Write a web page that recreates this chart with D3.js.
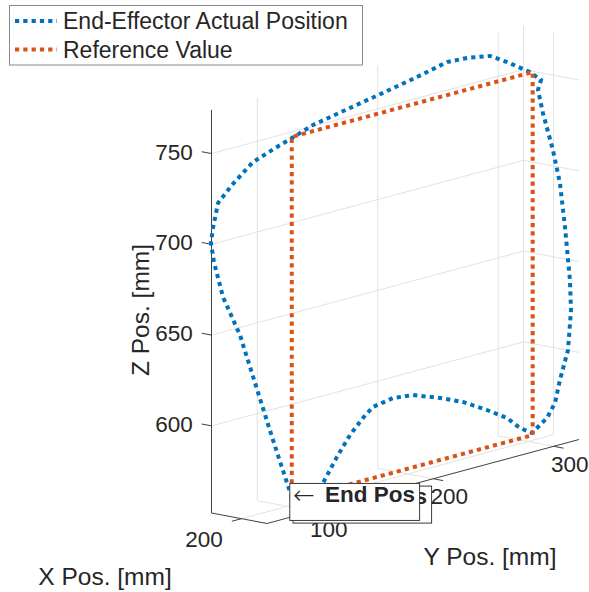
<!DOCTYPE html>
<html>
<head>
<meta charset="utf-8">
<script src="https://cdn.jsdelivr.net/npm/d3@7"></script>
<style>
  body { margin: 0; background: #fff; }
  text { font-family: "Liberation Sans", Arial, Helvetica, sans-serif; fill: #262626; }
</style>
</head>
<body>
<div id="wrapper"></div>
<script>
// axis limits and ticks (mm)
const xLim = [180, 217]
const yLim = [62, 321]
const zLim = [552, 774]
const xTicks = [200]
const yTicks = [100, 200, 300]
const zTicks = [600, 650, 700, 750]

// reference square (constant x plane)
const refX = 203
const refY = [100, 100, 300, 300, 100]
const refZ = [556, 756, 756, 556, 556]

// measured end-effector path
const actX = 203
const actY = [100.2, 84.4, 69.5, 57.0, 42.9, 35.4, 32.9, 34.6, 38.8, 50.4, 67.8, 87.7, 104.3, 117.6,
  148.3, 175.7, 204.0, 228.9, 245.5, 264.5, 278.7, 297.7, 306.9, 304.4, 308.5, 316.8, 322.6, 326.8,
  330.9, 331.8, 329.3, 322.6, 318.5, 311.9, 299.4, 289.4, 278.7, 262.0, 242.1, 223.0, 200.6, 184.0,
  167.4, 159.1, 148.3, 137.5, 125.9, 116.8, 106.0]
const actZ = [557.0, 591.8, 625.9, 654.5, 678.0, 698.6, 709.5, 717.5, 730.5, 738.4, 747.9, 752.6, 756.3, 759.4,
  763.3, 766.7, 770.4, 774.2, 773.5, 771.2, 765.3, 756.4, 750.4, 745.3, 731.9, 710.0, 690.8, 665.8,
  635.9, 619.2, 597.6, 582.3, 570.4, 563.3, 557.3, 561.8, 569.2, 576.6, 584.6, 590.2, 595.8, 597.1,
  595.2, 590.6, 583.1, 573.0, 560.7, 554.6, 555.5]

const startPos = [203, 101.5, 554]
const endPos = [203, 100, 556]
const seriesNames = ['End-Effector Actual Position', 'Reference Value']

const width = 589
const height = 592
const blue = '#0072BD'
const orange = '#D95319'
const axisColor = '#404040'
const gridColor = '#e2e2e2'

// projected plot box: origin is (xmin, ymin, zmin), vectors span each full axis
const origin = [211.5, 513]
const ex = [55.5, 10.5]
const ey = [312, -84]
const ez = [0, -403]

const sx = d3.scaleLinear().domain(xLim).range([0, 1])
const sy = d3.scaleLinear().domain(yLim).range([0, 1])
const sz = d3.scaleLinear().domain(zLim).range([0, 1])

function proj (x, y, z) {
  const a = sx(x), b = sy(y), c = sz(z)
  return [origin[0] + a * ex[0] + b * ey[0] + c * ez[0],
    origin[1] + a * ex[1] + b * ey[1] + c * ez[1]]
}
function unit (v) {
  const l = Math.hypot(v[0], v[1])
  return [v[0] / l, v[1] / l]
}
const ux = unit(ex)
const uy = unit(ey)

const svg = d3.select('#wrapper').append('svg')
  .attr('width', width).attr('height', height)

const line = d3.line()
function seg (g, p, q, color, w) {
  g.append('path').attr('d', line([p, q])).attr('stroke', color)
    .attr('stroke-width', w).attr('fill', 'none')
}

const [x0, x1] = xLim, [y0, y1] = yLim, [z0, z1] = zLim

// grid on back planes
const grid = svg.append('g')
zTicks.forEach(z => {
  seg(grid, proj(x0, y0, z), proj(x0, y1, z), gridColor, 1)
  seg(grid, proj(x0, y1, z), proj(x1, y1, z), gridColor, 1)
})
yTicks.forEach(y => {
  seg(grid, proj(x0, y, z0), proj(x0, y, z1), gridColor, 1)
  seg(grid, proj(x0, y, z0), proj(x1, y, z0), gridColor, 1)
})
xTicks.forEach(x => {
  seg(grid, proj(x, y1, z0), proj(x, y1, z1), gridColor, 1)
  seg(grid, proj(x, y0, z0), proj(x, y1, z0), gridColor, 1)
})
seg(grid, proj(x0, y1, z0), proj(x0, y1, z1), gridColor, 1)

// axes lines and ticks
const axes = svg.append('g')
seg(axes, proj(x0, y0, z0), proj(x0, y0, z1), axisColor, 1)
seg(axes, proj(x0, y0, z0), proj(x1, y0, z0), axisColor, 1)
seg(axes, proj(x1, y0, z0), proj(x1, y1, z0), axisColor, 1)
const tl = 10

zTicks.forEach(z => {
  const p = proj(x0, y0, z)
  const q = [p[0] - tl * ux[0], p[1] - tl * ux[1]]
  seg(axes, p, q, axisColor, 1)
  axes.append('text').attr('x', q[0] - 9).attr('y', q[1]).attr('dy', '0.35em')
    .attr('text-anchor', 'end').style('font-size', '22.5px').text(z)
})
yTicks.forEach(y => {
  const p = proj(x1, y, z0)
  const q = [p[0] + tl * ux[0], p[1] + tl * ux[1]]
  seg(axes, p, q, axisColor, 1)
  axes.append('text').attr('x', p[0] + 16).attr('y', p[1] + 17.5).attr('dy', '0.35em')
    .attr('text-anchor', 'middle').style('font-size', '22.5px').text(y)
})
xTicks.forEach(x => {
  const p = proj(x, y0, z0)
  const q = [p[0] - tl * uy[0], p[1] - tl * uy[1]]
  seg(axes, p, q, axisColor, 1)
  axes.append('text').attr('x', p[0] - 37.5).attr('y', p[1] + 20).attr('dy', '0.35em')
    .attr('text-anchor', 'middle').style('font-size', '22.5px').text(x)
})

// axis titles
svg.append('text').attr('x', 105).attr('y', 576).attr('dy', '0.35em')
  .attr('text-anchor', 'middle').style('font-size', '24.5px').text('X Pos. [mm]')
svg.append('text').attr('x', 490).attr('y', 556).attr('dy', '0.35em')
  .attr('text-anchor', 'middle').style('font-size', '24.5px').text('Y Pos. [mm]')
svg.append('text').attr('transform', 'translate(140,310) rotate(-90)').attr('dy', '0.35em')
  .attr('text-anchor', 'middle').style('font-size', '24.5px').text('Z Pos. [mm]')

// data lines
const dotted = '4.2 4.1'
const actPts = actY.map((y, i) => proj(actX, y, actZ[i]))
const refPts = refY.map((y, i) => proj(refX, y, refZ[i]))
svg.append('path').attr('d', line(actPts)).attr('fill', 'none')
  .attr('stroke', blue).attr('stroke-width', 4).attr('stroke-dasharray', dotted)
svg.append('path').attr('d', line(refPts)).attr('fill', 'none')
  .attr('stroke', orange).attr('stroke-width', 4).attr('stroke-dasharray', dotted)

// text annotations with boxes
function label (pos, txt, dx, dy) {
  const p = proj(pos[0], pos[1], pos[2])
  const g = svg.append('g').attr('transform', 'translate(' + (p[0] + dx) + ',' + (p[1] + dy) + ')')
  const rect = g.append('rect').attr('fill', '#fff').attr('stroke', '#3a3a3a').attr('stroke-width', 1)
  const t = g.append('text').attr('x', 4).attr('y', 0).attr('dy', '0.35em').style('font-size', '22.5px')
  t.append('tspan').style('font-family', '"DejaVu Sans ExtraLight", "DejaVu Sans"')
    .style('font-weight', 200).style('font-size', '26px').attr('dy', '0.1em').text('\u2190')
  t.append('tspan').style('font-weight', 'bold').attr('dx', 10).attr('dy', '-0.1em').text(txt)
  const w = t.node().getComputedTextLength() + 18
  rect.attr('x', 0.5).attr('y', -18).attr('width', w).attr('height', 37)
  return { g, p, w, x: p[0] + dx, y: p[1] + dy }
}
const endBox = label(endPos, 'End Pos', -2.5, 1.5)
const startBox = label(startPos, 'Start Pos', 0, 0)
// the start box sits behind, its right edge a little past the end box
startBox.g.attr('transform', 'translate(' + (endBox.x + endBox.w + 12 - startBox.w) + ',' + (startBox.p[1] + 1) + ')')
endBox.g.raise()

// legend
const leg = svg.append('g')
leg.append('rect').attr('x', 9.5).attr('y', 5.5).attr('width', 353).attr('height', 59.5)
  .attr('fill', '#fff').attr('stroke', '#8a8a8a').attr('stroke-width', 1)
const legColors = [blue, orange]
seriesNames.forEach((name, i) => {
  const y = 21 + i * 28.5
  leg.append('path').attr('d', line([[15, y], [57, y]])).attr('stroke', legColors[i])
    .attr('stroke-width', 4).attr('stroke-dasharray', dotted).attr('fill', 'none')
  leg.append('text').attr('x', 63).attr('y', y).attr('dy', '0.35em')
    .style('font-size', '23px').text(name)
})
</script>
</body>
</html>
